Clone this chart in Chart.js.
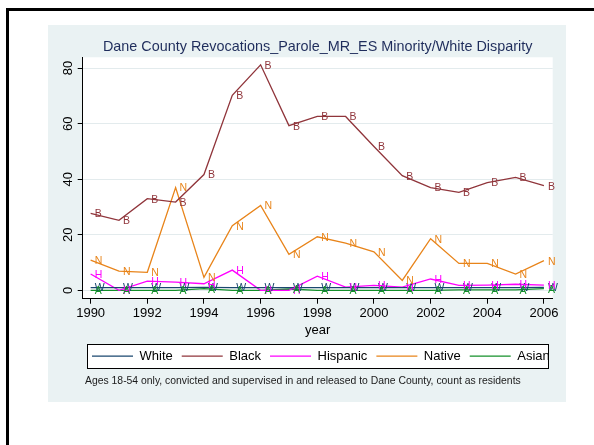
<!DOCTYPE html>
<html>
<head>
<meta charset="utf-8">
<script src="https://cdn.jsdelivr.net/npm/chart.js@4.4.1/dist/chart.umd.min.js"></script>
<style>
  html, body { margin: 0; padding: 0; background: #fff; }
  body { width: 594px; height: 445px; position: relative; overflow: hidden; }
  #frame { position: absolute; left: 6px; top: 8px; width: 620px; height: 460px; border-left: 3px solid #000; border-top: 3px solid #000; }
  #panel { position: absolute; left: 48px; top: 25px; width: 518px; height: 377px; background: #eaf2f3; }
  canvas { display: block; }
</style>
</head>
<body>
<div id="frame"></div>
<div id="panel"><canvas id="chart" width="518" height="377"></canvas></div>
<script>
// values
const years = [1990, 1991, 1992, 1993, 1994, 1995, 1996, 1997, 1998, 1999, 2000, 2001, 2002, 2003, 2004, 2005, 2006];
const seriesNames = ['White', 'Black', 'Hispanic', 'Native', 'Asian'];
const markerLetters = ['W', 'B', 'H', 'N', 'A'];

const white    = [1.0, 1.0, 1.0, 1.0, 1.1, 1.0, 1.0, 1.0, 1.0, 1.0, 1.0, 1.0, 1.0, 1.0, 1.0, 1.0, 1.1];
const black    = [27.7, 25.2, 33.0, 31.8, 41.7, 70.2, 81.2, 59.3, 62.6, 62.6, 51.8, 41.3, 37.0, 35.3, 38.8, 40.7, 37.7];
const hispanic = [5.9, 0, 3.3, 3.0, 2.4, 7.3, 0, 0, 5.1, 1.2, 1.8, 1.2, 4.1, 1.8, 1.9, 2.2, 1.9];
const native   = [10.9, 6.9, 6.5, 37.0, 4.7, 23.3, 30.6, 13.0, 19.3, 17.0, 13.9, 3.6, 18.6, 9.7, 9.7, 5.9, 10.7];
const asian    = [0, 0, 0, 0, 0.6, 0, 0, 0.5, 0, 0, 0, 0, 0, 0.2, 0.2, 0.2, 0.6];

const xTicks = [1990, 1992, 1994, 1996, 1998, 2000, 2002, 2004, 2006];
const yTicks = [0, 20, 40, 60, 80];

const titleText = 'Dane County Revocations_Parole_MR_ES Minority/White Disparity';
const noteText = 'Ages 18-54 only, convicted and supervised in and released to Dane County, count as residents';

const colors = ['#1a476f', '#90353b', '#ff00ff', '#e8841a', '#14902a'];
const allSeries = [white, black, hispanic, native, asian];

const FONT = '"Liberation Sans", Arial, Helvetica, sans-serif';
Chart.defaults.font.family = FONT;
Chart.defaults.color = '#000';

// white plot region + framed legend (drawn under the legend items)
const backdrop = {
  id: 'backdrop',
  beforeDraw(chart) {
    const { ctx, chartArea: a } = chart;
    ctx.save();
    ctx.fillStyle = '#fff';
    ctx.fillRect(a.left, a.top, a.right - a.left, a.bottom - a.top);
    const hb = chart.legend.legendHitBoxes;
    if (hb && hb.length) {
      const first = hb[0], last = hb[hb.length - 1];
      const cy = Math.round(first.top + first.height / 2);
      const x0 = Math.round(first.left - 5), x1 = Math.round(last.left + last.width - 2);
      ctx.fillRect(x0, cy - 12, x1 - x0, 24);
      ctx.strokeStyle = '#000';
      ctx.lineWidth = 1;
      ctx.strokeRect(x0 + 0.5, cy - 12 + 0.5, x1 - x0, 24);
    }
    ctx.restore();
  }
};

// move legend row and note to where Stata puts them
const nudge = {
  id: 'nudge',
  afterLayout(chart) {
    const lg = chart.legend;
    const pad = lg.options.labels.padding;
    const firstX = (lg.left + pad + lg.right - lg.lineWidths[0]) / 2;
    const dx = 44 - firstX;
    lg.left += dx; lg.right += dx;
    lg.top += 2.4; lg.bottom += 2.4;
    const note = chart.boxes.find(b => b.options && b.options.text === noteText);
    if (note) { note.left += 37; note.right += 37; }
  }
};

// letter markers next to each point
const letterMarkers = {
  id: 'letterMarkers',
  afterDatasetsDraw(chart) {
    const ctx = chart.ctx;
    ctx.save();
    ctx.font = '10.5px ' + FONT;
    ctx.textAlign = 'left';
    ctx.textBaseline = 'middle';
    chart.data.datasets.forEach((ds, i) => {
      ctx.fillStyle = ds.borderColor;
      chart.getDatasetMeta(i).data.forEach(pt => {
        ctx.fillText(markerLetters[i], pt.x + 4, pt.y + 1);
      });
    });
    ctx.restore();
  }
};

const ctx = document.getElementById('chart').getContext('2d');
new Chart(ctx, {
  type: 'line',
  data: {
    datasets: seriesNames.map((name, i) => ({
      label: name,
      data: years.map((y, j) => ({ x: y, y: allSeries[i][j] })),
      borderColor: colors[i],
      backgroundColor: colors[i],
      borderWidth: 1.3,
      pointRadius: 0,
      pointHitRadius: 0,
      tension: 0,
      fill: false
    }))
  },
  options: {
    responsive: false,
    animation: false,
    events: [],
    layout: { padding: { left: 0, right: 13.3, top: 0, bottom: 0 } },
    plugins: {
      title: {
        display: true,
        text: titleText,
        fullSize: false,
        color: '#1f2d5c',
        font: { size: 14.4, weight: 'normal' },
        padding: { top: 13.3, bottom: 1.7 }
      },
      subtitle: {
        display: true,
        text: noteText,
        position: 'bottom',
        align: 'start',
        color: '#1a1a1a',
        font: { size: 10.4, weight: 'normal' },
        padding: { top: 4.5, bottom: 14.7 }
      },
      legend: {
        position: 'bottom',
        labels: {
          usePointStyle: true,
          pointStyle: 'line',
          pointStyleWidth: 41,
          padding: 9,
          color: '#000',
          font: { size: 13 }
        }
      },
      tooltip: { enabled: false }
    },
    scales: {
      x: {
        type: 'linear',
        min: 1989.72,
        max: 2006.31,
        afterBuildTicks: s => { s.ticks = xTicks.map(v => ({ value: v })); },
        ticks: {
          color: '#000',
          font: { size: 13, lineHeight: 1 },
          padding: 3,
          maxRotation: 0,
          autoSkip: false,
          callback: v => String(v)
        },
        grid: { drawOnChartArea: false, tickLength: 5, tickColor: '#000' },
        border: { color: '#000' },
        title: { display: true, text: 'year', color: '#000', font: { size: 13 }, padding: 0 }
      },
      y: {
        min: -3.0,
        max: 83.9,
        afterBuildTicks: s => { s.ticks = yTicks.map(v => ({ value: v })); },
        afterFit: s => { s.width = 34.7; },
        ticks: {
          color: '#000',
          font: { size: 13 },
          padding: 2,
          minRotation: 90,
          maxRotation: 90,
          crossAlign: 'center',
          callback: v => String(v)
        },
        grid: { color: '#e3ebed', tickLength: 5, tickColor: '#000' },
        border: { color: '#000' }
      }
    }
  },
  plugins: [backdrop, nudge, letterMarkers]
});
</script>
</body>
</html>
